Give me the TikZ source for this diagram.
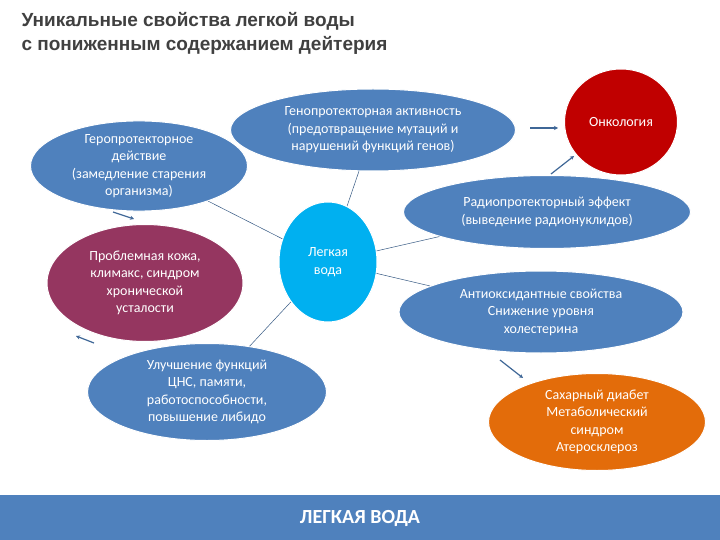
\documentclass[tikz,border=0pt]{standalone}
\usepackage{fontspec}
\setmainfont{Carlito}
\newfontfamily\titlefont{Liberation Sans}
\usetikzlibrary{shapes.geometric,arrows.meta}
\definecolor{bl}{HTML}{4F81BD}
\definecolor{onk}{HTML}{C00000}
\definecolor{skin}{HTML}{953660}
\definecolor{lw}{HTML}{00B0F0}
\definecolor{orng}{HTML}{E36C0A}
\definecolor{ttl}{HTML}{404040}
\begin{document}
\begin{tikzpicture}[x=1pt,y=-1pt,
  ell/.style={ellipse,fill=bl,draw=white,line width=1pt,text=white,align=center,font=\fontsize{14}{17.5}\selectfont,inner sep=0pt},
  conn/.style={draw=bl!70!black,line width=0.5pt},
  arr/.style={draw=bl!80!black,line width=1.2pt,-{Stealth[length=4pt,width=4pt]}}]
\useasboundingbox (0,0) rectangle (720,540);
\fill[white] (0,0) rectangle (720,540);
\node[anchor=north west,align=left,text=ttl,font=\titlefont\bfseries\fontsize{19}{24}\selectfont] (title) at (18,9) {Уникальные свойства легкой воды\\с пониженным содержанием дейтерия};
\node[ell,minimum width=217pt,minimum height=90pt] (gero) at (139,166) {Геропротекторное\\действие\\(замедление старения\\организма)};
\node[ell,minimum width=285pt,minimum height=82pt] (geno) at (373,130) {Генопротекторная активность\\(предотвращение мутаций и\\нарушений функций генов)};
\node[ell,fill=onk,minimum width=113pt,minimum height=106pt] (onko) at (621,122) {Онкология};
\node[ell,minimum width=287pt,minimum height=73pt] (radio) at (547,212) {Радиопротекторный эффект\\(выведение радионуклидов)};
\node[ell,fill=lw,minimum width=98pt,minimum height=120pt] (water) at (328,262) {Легкая\\вода};
\node[ell,fill=skin,minimum width=196pt,minimum height=117pt] (skin) at (145,283) {Проблемная кожа,\\климакс, синдром\\хронической\\усталости};
\node[ell,minimum width=284pt,minimum height=82pt] (anti) at (541,312) {Антиоксидантные свойства\\Снижение уровня\\холестерина};
\node[ell,minimum width=239pt,minimum height=97pt] (cns) at (207,392) {Улучшение функций\\ЦНС, памяти,\\работоспособности,\\повышение либидо};
\node[ell,fill=orng,minimum width=217pt,minimum height=97pt] (diab) at (597,422) {Сахарный диабет\\Метаболический\\синдром\\Атеросклероз};
\draw[conn] (water) -- (gero);
\draw[conn] (water) -- (geno);
\draw[conn] (water) -- (radio);
\draw[conn] (water) -- (anti);
\draw[conn] (water) -- (cns);
\coordinate (a1s) at (530,128); \coordinate (a1e) at (558,128);
\coordinate (a2s) at (551,174); \coordinate (a2e) at (574,156);
\coordinate (a3s) at (113,212); \coordinate (a3e) at (134,219);
\coordinate (a4s) at (94,343); \coordinate (a4e) at (76,336);
\coordinate (a5s) at (500,360); \coordinate (a5e) at (523,378);
\draw[arr] (a1s) -- (a1e);
\draw[arr] (a2s) -- (a2e);
\draw[arr] (a3s) -- (a3e);
\draw[arr] (a4s) -- (a4e);
\draw[arr] (a5s) -- (a5e);
\fill[bl] (0,495) rectangle (720,540);
\node[text=white,font=\bfseries\fontsize{20}{24}\selectfont] (bar) at (360,518) {ЛЕГКАЯ ВОДА};
\end{tikzpicture}
\end{document}
